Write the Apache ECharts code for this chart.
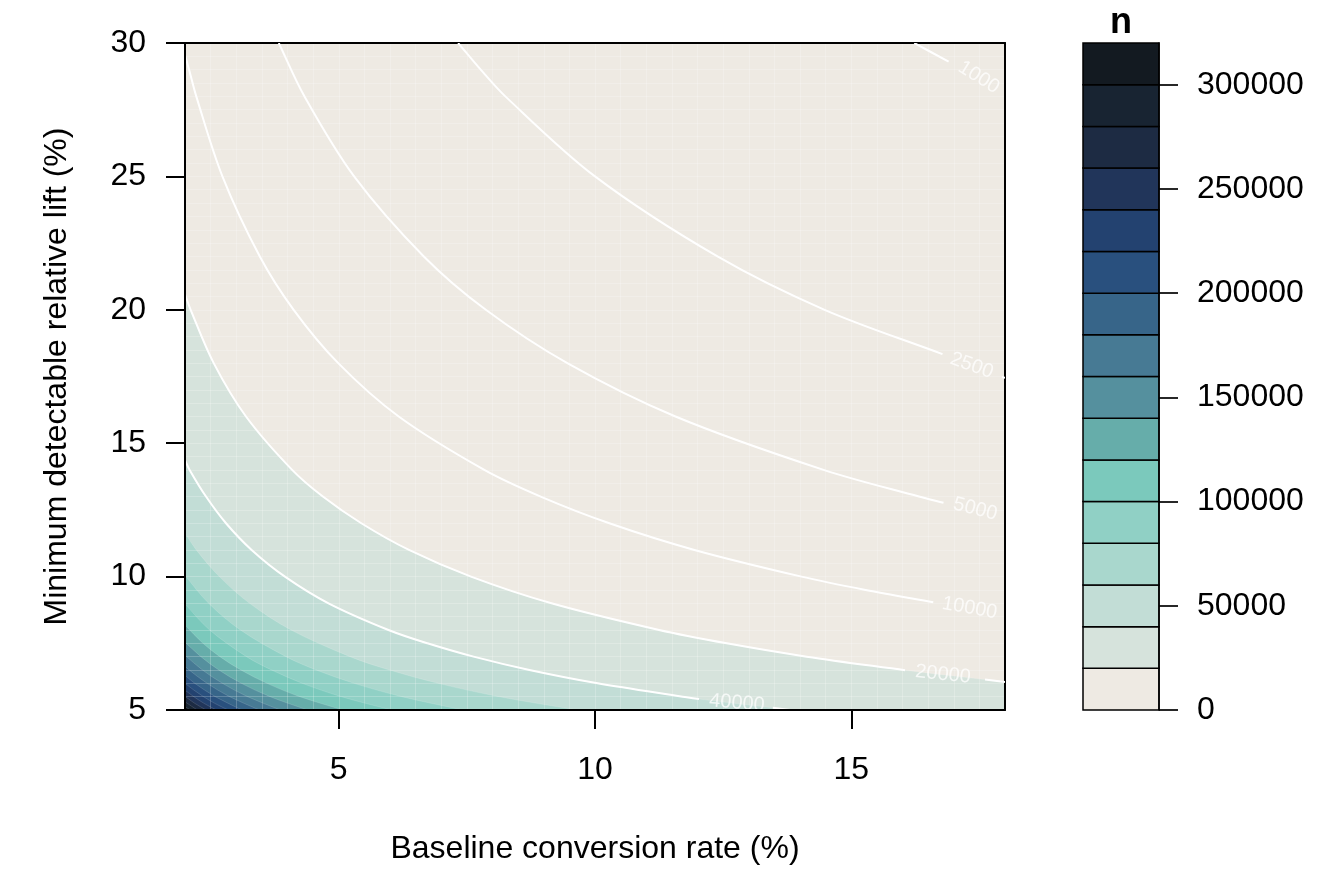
<!DOCTYPE html>
<html>
<head>
<meta charset="utf-8">
<title>Sample size per group</title>
<script src="https://cdn.jsdelivr.net/npm/echarts@6/dist/echarts.min.js"></script>
<style>
  html, body { margin: 0; padding: 0; background: #fff; }
  #chart { width: 1344px; height: 883px; }
</style>
</head>
<body>
<div id="chart"></div>
<script>
var FONT = 'Liberation Sans, Arial, Helvetica, sans-serif';

// axis ranges and ticks
var xRange = [2, 18];            // baseline conversion rate (%)
var yRange = [5, 30];            // minimum detectable relative lift (%)
var xTicks = [5, 10, 15];
var colorbarTicks = [0, 50000, 100000, 150000, 200000, 250000, 300000];

// colour key: band edges for n and the band colours (low -> high)
var bandBreaks = [0, 20000, 40000, 60000, 80000, 100000, 120000, 140000, 160000,
  180000, 200000, 220000, 240000, 260000, 280000, 300000, 320000];
var bandColors = ['#EEEAE3', '#D6E3DC', '#C2DDD6', '#A9D7CD', '#90D0C5', '#7BC9BC',
  '#66ADAA', '#55909E', '#477A94', '#376589', '#29507E', '#234270', '#21355A',
  '#1D2B43', '#182432', '#131A21'];

// labelled contour lines; null marks the break where the label sits
var lineLevels = [1000, 2500, 5000, 10000, 20000, 40000];
var iso1000 = [[16.23, 30], [16.9, 29.3], null];
var iso2500 = [[7.33, 30], [7.77, 29], [8.25, 28], [10.0, 25], [12.39, 22], [14.48, 20],
  [16.78, 18.34], null, [17.94, 17.48], [18, 17.45]];
var iso5000 = [[3.83, 30], [4.33, 28], [5.3, 25], [6.66, 22], [7.87, 20], [9.46, 18],
  [11.57, 16], [14.46, 14], [16.32, 13], [16.8, 12.77], null];
var iso10000 = [[2, 29.55], [2.08, 29], [2.22, 28], [2.73, 25], [3.46, 22], [4.12, 20],
  [4.99, 18], [6.17, 16], [7.84, 14], [8.94, 13], [10.28, 12], [11.94, 11], [14.03, 10],
  [15.28, 9.5], [16.6, 9.04], null];
var iso20000 = [[2, 20.58], [2.11, 20], [2.56, 18], [3.19, 16], [4.09, 14], [4.69, 13],
  [5.44, 12], [6.37, 11], [7.58, 10], [9.15, 9], [11.25, 8], [12.57, 7.5], [14.13, 7],
  [16.05, 6.49], null, [17.61, 6.14], [18, 6.05]];
var iso40000 = [[2, 14.36], [2.09, 14], [2.41, 13], [2.8, 12], [3.3, 11], [3.95, 10],
  [4.8, 9], [5.97, 8], [6.73, 7.5], [7.63, 7], [8.72, 6.5], [10.05, 6], [11.71, 5.5],
  [12.03, 5.41], null, [13.47, 5.08], [13.8, 5]];
var lineLabelAt = [[17.49, 28.71], [17.35, 17.91], [17.42, 12.53], [17.31, 8.82],
  [16.79, 6.33], [12.77, 5.26]];

// remaining band edges (bottom-left corner)
var iso60000 = [[2, 11.63], [2.22, 11], [2.67, 10], [3.26, 9], [4.07, 8], [5.22, 7],
  [5.99, 6.5], [6.94, 6], [8.13, 5.5], [9.65, 5]];
var iso80000 = [[2, 10.04], [2.46, 9], [3.08, 8], [3.97, 7], [4.56, 6.5], [5.3, 6],
  [6.23, 5.5], [7.42, 5]];
var iso100000 = [[2, 8.97], [2.48, 8], [3.2, 7], [3.69, 6.5], [4.29, 6], [5.05, 5.5], [6.03, 5]];
var iso120000 = [[2, 8.18], [2.35, 7.5], [2.68, 7], [3.09, 6.5], [3.6, 6], [4.24, 5.5], [5.08, 5]];
var iso140000 = [[2, 7.54], [2.31, 7], [2.66, 6.5], [3.1, 6], [3.66, 5.5], [4.39, 5]];
var iso160000 = [[2, 7.05], [2.34, 6.5], [2.73, 6], [3.22, 5.5], [3.86, 5]];
var iso180000 = [[2, 6.64], [2.08, 6.5], [2.43, 6], [2.87, 5.5], [3.45, 5]];
var iso200000 = [[2, 6.3], [2.19, 6], [2.59, 5.5], [3.11, 5]];
var iso220000 = [[2, 6.0], [2.17, 5.75], [2.36, 5.5], [2.58, 5.25], [2.84, 5]];
var iso240000 = [[2, 5.74], [2.17, 5.5], [2.37, 5.25], [2.61, 5]];
var iso260000 = [[2, 5.51], [2.19, 5.25], [2.41, 5]];
var iso280000 = [[2, 5.31], [2.12, 5.15], [2.24, 5]];
var iso300000 = [[2, 5.13], [2.1, 5]];

var isoLines = [iso1000, iso2500, iso5000, iso10000, iso20000, iso40000];
var labelAngles = [32, 20, 14, 10, 6, 5];
var bandEdges = [iso20000, iso40000, iso60000, iso80000, iso100000, iso120000,
  iso140000, iso160000, iso180000, iso200000, iso220000, iso240000, iso260000,
  iso280000, iso300000];

// smooth curve through pixel points (chord-length scaled tangents)
function curvePath(px) {
  var n = px.length, tan = [], i;
  for (i = 0; i < n; i++) {
    var a = px[Math.max(i - 1, 0)], b = px[Math.min(i + 1, n - 1)];
    var len = Math.hypot(b[0] - a[0], b[1] - a[1]) || 1;
    tan.push([(b[0] - a[0]) / len, (b[1] - a[1]) / len]);
  }
  var d = 'M' + px[0][0] + ' ' + px[0][1];
  for (i = 0; i < n - 1; i++) {
    var L = Math.hypot(px[i + 1][0] - px[i][0], px[i + 1][1] - px[i][1]) / 3;
    d += ' C' + (px[i][0] + tan[i][0] * L) + ' ' + (px[i][1] + tan[i][1] * L) +
      ' ' + (px[i + 1][0] - tan[i + 1][0] * L) + ' ' + (px[i + 1][1] - tan[i + 1][1] * L) +
      ' ' + px[i + 1][0] + ' ' + px[i + 1][1];
  }
  return d;
}

function renderBand(params, api) {
  var i = params.dataIndex;
  var pts = bandEdges[i].filter(Boolean);
  var last = pts[pts.length - 1];
  var corners = last[0] >= xRange[1] ? [[xRange[1], yRange[0]], [xRange[0], yRange[0]]]
    : [[xRange[0], yRange[0]]];
  var d = curvePath(pts.map(function (p) { return api.coord(p); }));
  corners.forEach(function (c) {
    var q = api.coord(c);
    d += ' L' + q[0] + ' ' + q[1];
  });
  d += ' Z';
  return {
    type: 'path',
    shape: { pathData: d },
    style: { fill: bandColors[i + 1], stroke: 'rgba(255,255,255,0.2)', lineWidth: 0.7 }
  };
}

function renderLine(params, api) {
  var i = params.dataIndex;
  var segs = [[]];
  isoLines[i].forEach(function (p) {
    if (p) segs[segs.length - 1].push(api.coord(p));
    else segs.push([]);
  });
  var children = segs.filter(function (s) { return s.length > 1; }).map(function (s) {
    return {
      type: 'path',
      shape: { pathData: curvePath(s) },
      style: { fill: 'none', stroke: '#ffffff', lineWidth: 2 }
    };
  });
  var at = api.coord(lineLabelAt[i]);
  children.push({
    type: 'text',
    x: at[0], y: at[1],
    rotation: -labelAngles[i] * Math.PI / 180,
    style: {
      text: String(lineLevels[i]), fill: 'rgba(255,255,255,0.75)',
      fontSize: 20, fontFamily: FONT, align: 'center', verticalAlign: 'middle'
    }
  });
  return { type: 'group', children: children };
}

function renderKey(params, api) {
  var i = params.dataIndex;
  var a = api.coord([0, bandBreaks[i]]);
  var b = api.coord([1, bandBreaks[i + 1]]);
  return {
    type: 'rect',
    shape: { x: a[0], y: b[1], width: b[0] - a[0], height: a[1] - b[1] },
    style: { fill: bandColors[i], stroke: '#000', lineWidth: 1.5 }
  };
}

var black = { color: '#000', width: 2 };
var labelText = { color: '#000', fontSize: 32, fontFamily: FONT };

var chart = echarts.init(document.getElementById('chart'));

var option = {
  animation: false,
  backgroundColor: '#ffffff',
  grid: [
    { left: 185, top: 43, width: 820, height: 667, show: true,
      backgroundColor: bandColors[0], borderWidth: 0 },
    { left: 1083, top: 43, width: 76, height: 667 }
  ],
  xAxis: [
    {
      gridIndex: 0, type: 'value', position: 'bottom', min: xRange[0], max: xRange[1], z: 6,
      name: 'Baseline conversion rate (%)', nameLocation: 'middle', nameGap: 123,
      nameTextStyle: labelText,
      axisLine: { show: true, onZero: false, lineStyle: black },
      axisTick: { show: true, customValues: xTicks, length: 19, lineStyle: black },
      axisLabel: Object.assign({ customValues: xTicks, margin: 44 }, labelText),
      splitLine: { show: false }
    },
    {
      // fine grid of the contour mesh + top frame
      gridIndex: 0, type: 'value', position: 'top', min: xRange[0], max: xRange[1],
      interval: 0.5, z: 3,
      axisLine: { show: true, onZero: false, lineStyle: black },
      axisTick: { show: false }, axisLabel: { show: false },
      splitLine: { show: true, lineStyle: { color: 'rgba(255,255,255,0.22)', width: 1 } }
    },
    { gridIndex: 1, type: 'value', min: 0, max: 1, show: false }
  ],
  yAxis: [
    {
      gridIndex: 0, type: 'value', position: 'left', min: yRange[0], max: yRange[1],
      interval: 5, z: 6,
      name: 'Minimum detectable relative lift (%)', nameLocation: 'middle', nameGap: 112,
      nameRotate: 90, nameTextStyle: labelText,
      axisLine: { show: true, onZero: false, lineStyle: black },
      axisTick: { show: true, length: 19, lineStyle: black },
      axisLabel: Object.assign({ margin: 39 }, labelText),
      splitLine: { show: false }
    },
    {
      gridIndex: 0, type: 'value', position: 'right', min: yRange[0], max: yRange[1],
      interval: 0.5, z: 3,
      axisLine: { show: true, onZero: false, lineStyle: black },
      axisTick: { show: false }, axisLabel: { show: false },
      splitLine: { show: true, lineStyle: { color: 'rgba(255,255,255,0.22)', width: 1 } }
    },
    {
      gridIndex: 1, type: 'value', position: 'right', min: 0, max: 320000, z: 6,
      axisLine: { show: true, onZero: false, lineStyle: { color: '#000', width: 1.5 } },
      axisTick: { show: true, customValues: colorbarTicks, length: 19,
        lineStyle: { color: '#000', width: 1.7 } },
      axisLabel: Object.assign({
        customValues: colorbarTicks, margin: 38,
        formatter: function (v) { return String(v); }
      }, labelText),
      splitLine: { show: false }
    }
  ],
  graphic: [
    {
      type: 'text', x: 1121, y: 23,
      style: { text: 'n', fontSize: 36, fontWeight: 'bold', fontFamily: FONT,
        fill: '#000', align: 'center', verticalAlign: 'middle' }
    }
  ],
  series: [
    {
      type: 'custom', name: 'bands', xAxisIndex: 0, yAxisIndex: 0, clip: true, z: 2,
      silent: true, renderItem: renderBand,
      data: bandEdges.map(function () { return [xRange[0], yRange[0]]; })
    },
    {
      type: 'custom', name: 'contours', xAxisIndex: 0, yAxisIndex: 0, clip: true, z: 5,
      silent: true, renderItem: renderLine,
      data: lineLevels.map(function () { return [xRange[0], yRange[0]]; })
    },
    {
      type: 'custom', name: 'key', xAxisIndex: 2, yAxisIndex: 2, z: 4,
      silent: true, renderItem: renderKey,
      data: bandColors.map(function (c, i) { return [0, bandBreaks[i]]; })
    }
  ]
};

chart.setOption(option);

window.addEventListener('resize', function () {
  chart.resize();
});
</script>
</body>
</html>
